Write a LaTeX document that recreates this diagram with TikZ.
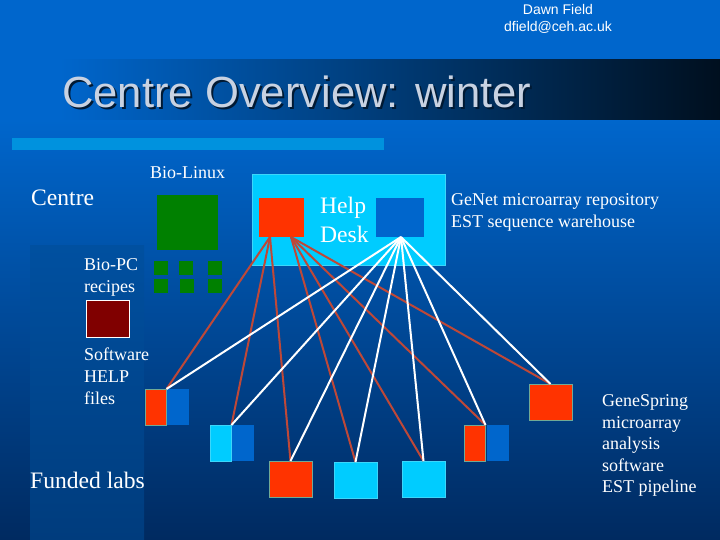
\documentclass[tikz,border=0pt]{standalone}
\usepackage{fontspec}
\setmainfont{Liberation Serif}
\newfontfamily\arialfont{Liberation Sans}
\definecolor{slideblue}{RGB}{0,102,204}
\definecolor{slidemid}{RGB}{0,62,130}
\definecolor{slidedark}{RGB}{0,42,96}
\definecolor{bandtop}{RGB}{0,80,160}
\definecolor{bandbottom}{RGB}{0,60,125}
\definecolor{barblue}{RGB}{0,146,222}
\definecolor{helpcyan}{RGB}{0,204,255}
\definecolor{labred}{RGB}{255,51,0}
\definecolor{linkred}{RGB}{190,72,56}
\definecolor{edgegreen}{RGB}{112,170,150}
\definecolor{edgecyan}{RGB}{60,214,250}
\definecolor{bioGreen}{RGB}{0,128,0}
\definecolor{recipered}{RGB}{128,0,0}
\definecolor{titlegrey}{RGB}{200,210,226}
\tikzset{
  redbox/.style={draw=edgegreen, fill=labred, line width=0.8pt, anchor=north west, inner sep=0pt, outer sep=0pt},
  cyanbox/.style={draw=edgecyan, fill=helpcyan, line width=0.8pt, anchor=north west, inner sep=0pt, outer sep=0pt},
  bluebox/.style={fill=slideblue, anchor=north west, inner sep=0pt, outer sep=0pt},
  greenbox/.style={fill=bioGreen, anchor=north west, inner sep=0pt, outer sep=0pt},
  whole/.style={minimum width=43pt, minimum height=36pt},
  half/.style={minimum width=21.5pt, minimum height=36pt},
  small/.style={minimum width=14pt, minimum height=14pt},
  redlink/.style={draw=linkred, line width=2pt},
  whitelink/.style={draw=white, line width=2pt},
  serifsmall/.style={text=white, anchor=base west, inner sep=0pt, font=\fontsize{18}{18}\selectfont},
  seriflarge/.style={text=white, anchor=base west, inner sep=0pt, font=\fontsize{23.6}{24}\selectfont},
  headtext/.style={text=white, anchor=base, inner sep=0pt, font=\arialfont\fontsize{14}{14}\selectfont},
  titletext/.style={anchor=base west, inner sep=0pt, font=\arialfont\fontsize{43.6}{44}\selectfont}
}
\begin{document}
\begin{tikzpicture}[x=1pt,y=-1pt]
\useasboundingbox (0,0) rectangle (720,540);
% background
\fill[slideblue] (0,0) rectangle (720,121);
\shade[top color=slideblue, middle color=slidemid, bottom color=slidedark] (0,120) rectangle (720,540);
\shade[top color=bandtop, bottom color=bandbottom] (30,245) rectangle (144,540);
\shade[left color=slideblue, middle color=slidemid, right color=black!85!slideblue] (60,60) rectangle (720,120);
\fill[barblue] (12,138) rectangle (384,150);
% header
\node[headtext] (author) at (558,15) {Dawn Field};
\node[headtext] (email) at (558,32) {dfield@ceh.ac.uk};
\node[titletext, text=black!75!slideblue] (titleshadow) at (64,110) {Centre Overview: winter};
\node[titletext, text=titlegrey] (title) at (62,108) {Centre Overview: winter};
% left column
\node[seriflarge] (centre) at (31,206) {Centre};
\node[serifsmall] (biolinux) at (150,179) {Bio-Linux};
\node[serifsmall] (biopc) at (84,270) {Bio-PC};
\node[serifsmall] (recipes) at (84,292) {recipes};
\node[serifsmall] (software) at (84,360) {Software};
\node[serifsmall] (helptext) at (84,382) {HELP};
\node[serifsmall] (files) at (84,404) {files};
\node[seriflarge] (funded) at (30,488) {Funded labs};
% bio-linux machines
\node[greenbox, minimum width=61pt, minimum height=55pt] (server) at (157,195) {};
\node[greenbox, small] (pca) at (154,261) {};
\node[greenbox, small] (pcb) at (179,261) {};
\node[greenbox, small] (pcc) at (208,261) {};
\node[greenbox, small] (pcd) at (154,279) {};
\node[greenbox, small] (pce) at (180,279) {};
\node[greenbox, small] (pcf) at (208,279) {};
\node[draw=white, line width=0.8pt, fill=recipered, anchor=north west, inner sep=0pt, outer sep=0pt, minimum width=43pt, minimum height=37pt] (recipebox) at (86,300) {};
% help desk
\node[cyanbox, minimum width=193pt, minimum height=91pt] (helpdesk) at (252,174) {};
\node[fill=labred, anchor=north west, inner sep=0pt, outer sep=0pt, minimum width=45pt, minimum height=39pt] (helpred) at (259,198) {};
\node[bluebox, minimum width=48pt, minimum height=39pt] (helpblue) at (376,198) {};
\node[seriflarge, text=white] (helpa) at (320,214) {Help};
\node[seriflarge, text=white] (helpb) at (320,242) {Desk};
\coordinate (reda) at (270,237);
\coordinate (redb) at (291,237);
\coordinate (whitea) at (401,237);
\node[serifsmall] (genet) at (451,206) {GeNet microarray repository};
\node[serifsmall] (est) at (451,228) {EST sequence warehouse};
% labs
\node[redbox, half] (labared) at (145,389) {};
\node[bluebox, half] (labablue) at (167,389) {};
\node[cyanbox, half] (labbcyan) at (210,425) {};
\node[bluebox, half] (labbblue) at (232,425) {};
\node[redbox, whole] (labc) at (269,461) {};
\node[cyanbox, whole] (labd) at (334,462) {};
\node[cyanbox, whole] (labe) at (402,461) {};
\node[redbox, half] (labfred) at (464,425) {};
\node[bluebox, half] (labfblue) at (487,425) {};
\node[redbox, whole] (labg) at (529,384) {};
% red links
\draw[redlink] (reda) -- (labared.north east);
\draw[redlink] (reda) -- (labbcyan.north east);
\draw[redlink] (reda) -- (labc.north);
\draw[redlink] (redb) -- (labd.north);
\draw[redlink] (redb) -- (labe.north);
\draw[redlink] (redb) -- (labfred.north east);
\draw[redlink] (redb) -- (labg.north);
% white links
\draw[whitelink] (whitea) -- (labared.north east);
\draw[whitelink] (whitea) -- (labbcyan.north east);
\draw[whitelink] (whitea) -- (labc.north);
\draw[whitelink] (whitea) -- (labd.north);
\draw[whitelink] (whitea) -- (labe.north);
\draw[whitelink] (whitea) -- (labfred.north east);
\draw[whitelink] (whitea) -- (labg.north);
% right column
\node[serifsmall] (gene) at (602,406) {GeneSpring};
\node[serifsmall] (micro) at (602,428) {microarray};
\node[serifsmall] (analysis) at (602,449) {analysis};
\node[serifsmall] (softw) at (602,471) {software};
\node[serifsmall] (pipeline) at (602,492) {EST pipeline};
\end{tikzpicture}
\end{document}
